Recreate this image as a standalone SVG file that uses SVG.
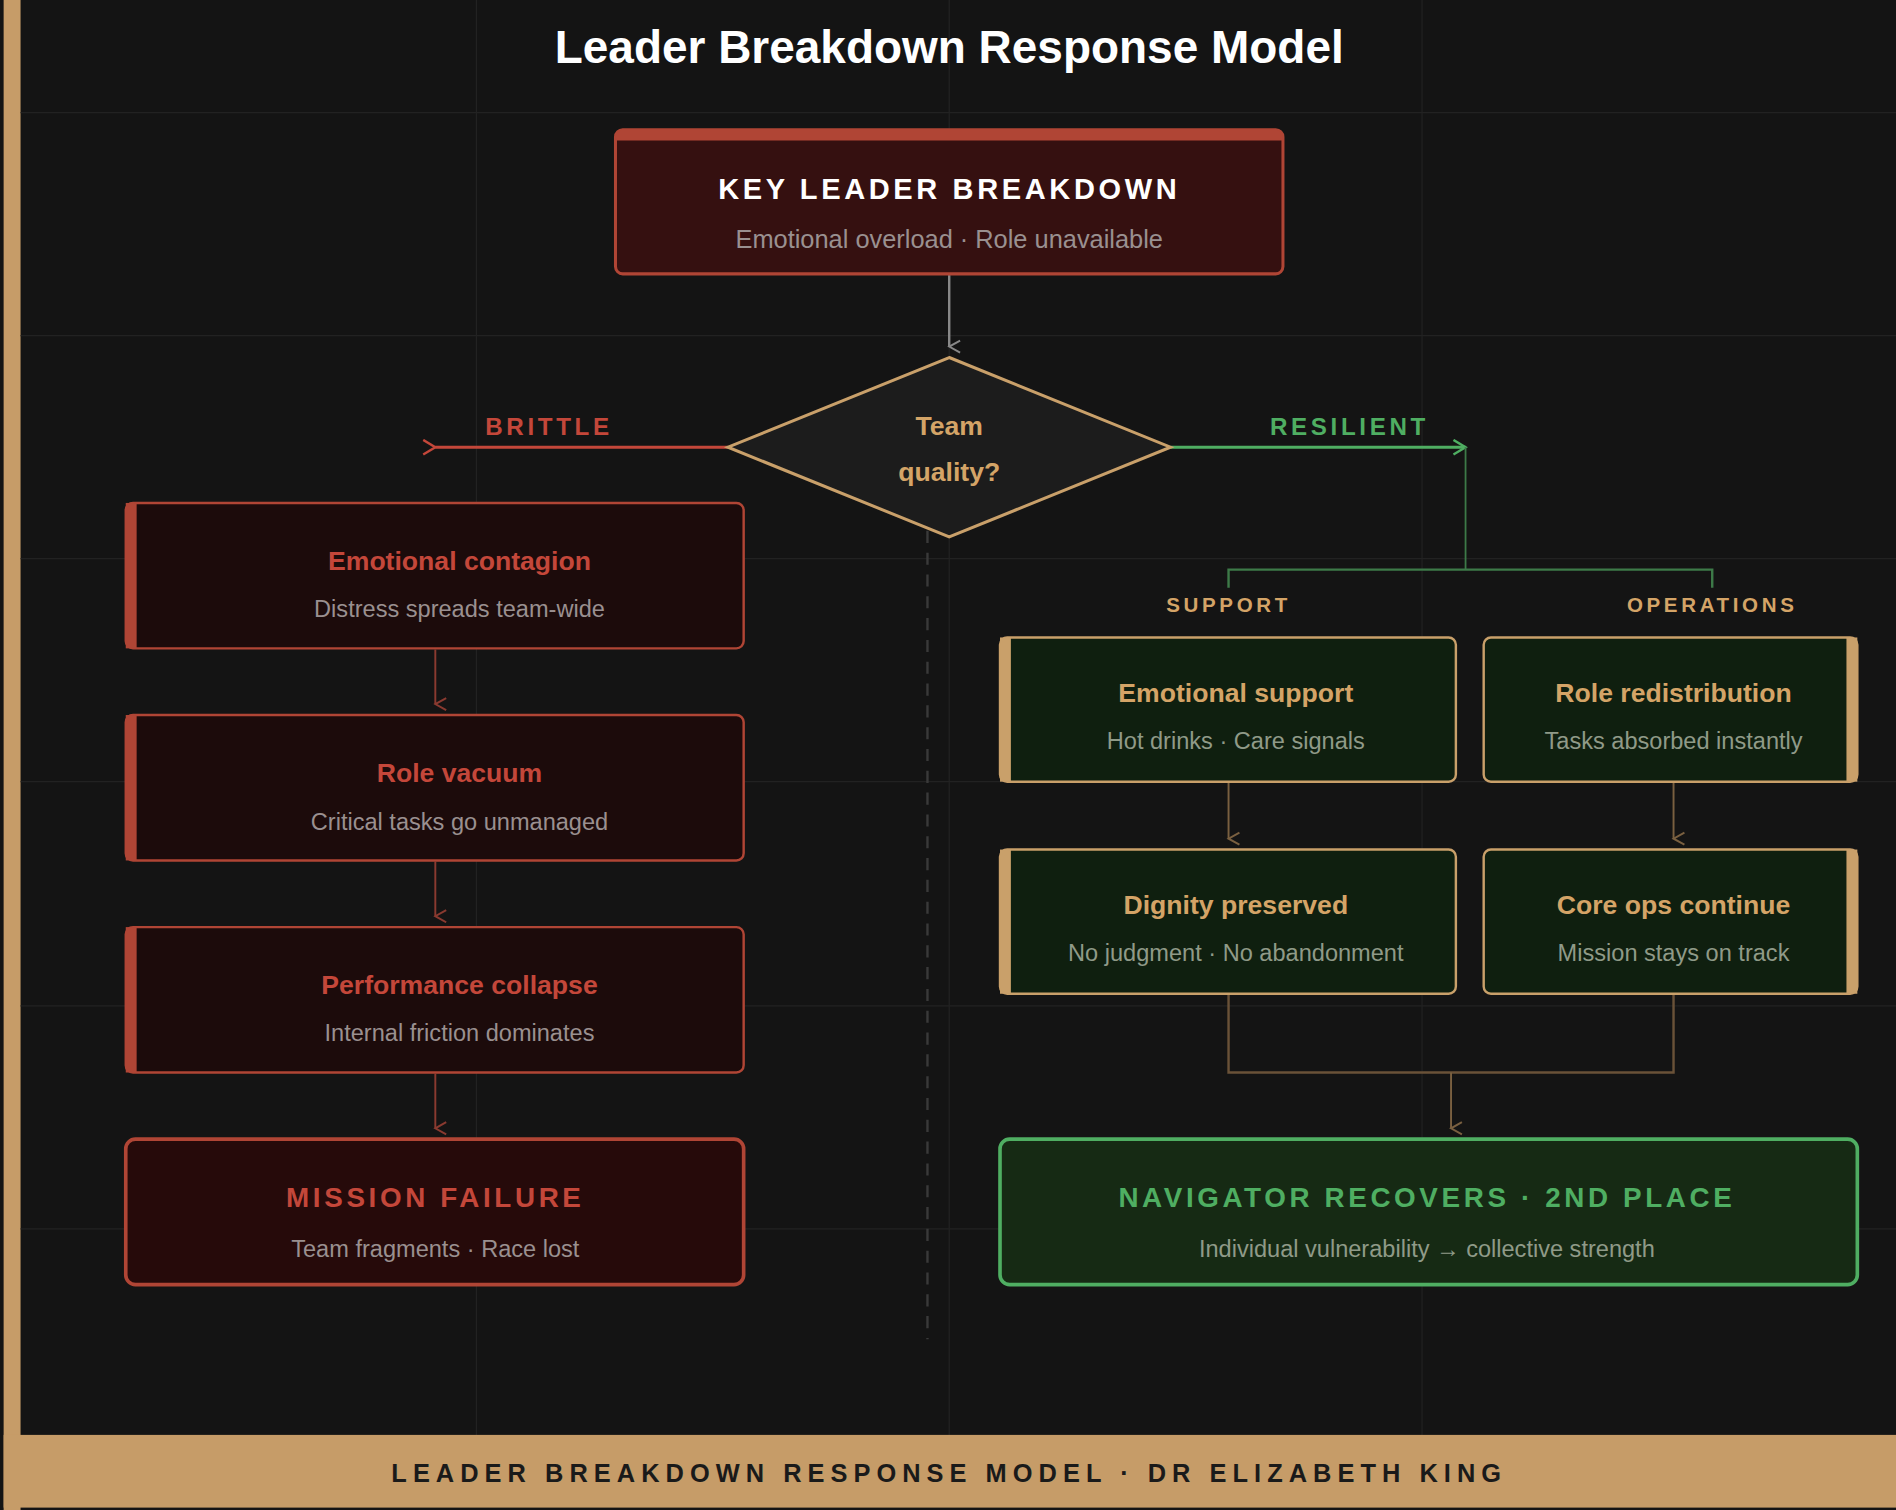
<svg xmlns="http://www.w3.org/2000/svg" width="1896" height="1510" viewBox="0 0 1896 1510">
<style>
text{font-family:"Liberation Sans",Arial,sans-serif;text-anchor:middle}
.t{font-weight:bold;font-size:22px}
.s{font-size:19.5px;fill:#9a9090}
.sg{font-size:19.5px;fill:#8f9a88}
.red{fill:#c4473a}.gold{fill:#d4a467}.green{fill:#4fae62}
.lb{fill:#1c0b0b;stroke:#b04535;stroke-width:2}
.rb{fill:#0f1f0f;stroke:#c9a06a;stroke-width:2}
.grid{stroke:#222;stroke-width:1}
</style>
<defs>
<marker id="ag" markerWidth="12" markerHeight="12" refX="6" refY="10" orient="auto" markerUnits="userSpaceOnUse"><path d="M1,1 L6,10 L11,1" fill="none" stroke="#888" stroke-width="1.6"/></marker>
<marker id="ar" markerWidth="12" markerHeight="12" refX="6" refY="10" orient="auto" markerUnits="userSpaceOnUse"><path d="M1,1 L6,10 L11,1" fill="none" stroke="#8a3a30" stroke-width="1.6"/></marker>
<marker id="ab" markerWidth="12" markerHeight="12" refX="6" refY="10" orient="auto" markerUnits="userSpaceOnUse"><path d="M1,1 L6,10 L11,1" fill="none" stroke="#7a6040" stroke-width="1.6"/></marker>
<marker id="arl" markerWidth="14" markerHeight="14" refX="2" refY="7" orient="auto" markerUnits="userSpaceOnUse"><path d="M12,1 L2,7 L12,13" fill="none" stroke="#c4473a" stroke-width="2"/></marker>
<marker id="agr" markerWidth="14" markerHeight="14" refX="12" refY="7" orient="auto" markerUnits="userSpaceOnUse"><path d="M2,1 L12,7 L2,13" fill="none" stroke="#4fae62" stroke-width="2"/></marker>
</defs>
<rect width="1896" height="1510" fill="#ffffff"/>
<g transform="scale(1.2092,1.2119)">
<rect x="0" y="0" width="1568" height="1246" fill="#141414"/>
<rect x="3" y="0" width="14" height="1246" fill="#c69c68"/>
<g class="grid">
<line x1="394" y1="0" x2="394" y2="1184"/><line x1="785" y1="0" x2="785" y2="1184"/><line x1="1176" y1="0" x2="1176" y2="1184"/>
<line x1="17" y1="93" x2="1568" y2="93"/><line x1="17" y1="277" x2="1568" y2="277"/><line x1="17" y1="461" x2="1568" y2="461"/><line x1="17" y1="645" x2="1568" y2="645"/><line x1="17" y1="830" x2="1568" y2="830"/><line x1="17" y1="1014" x2="1568" y2="1014"/>
</g>
<rect x="3" y="1184" width="1565" height="60" fill="#c69c68"/>
<text x="785" y="1223" style="font-weight:bold;font-size:21px;letter-spacing:5px;fill:#1a1a1a">LEADER BREAKDOWN RESPONSE MODEL · DR ELIZABETH KING</text>
<text x="785" y="52" style="font-weight:bold;font-size:38px;fill:#ffffff">Leader Breakdown Response Model</text>
<line x1="767" y1="420" x2="767" y2="1105" stroke="#3a3a3a" stroke-width="2" stroke-dasharray="10,8"/>

<g id="connectors" fill="none">
<line x1="785" y1="227" x2="785" y2="286" stroke="#888" stroke-width="2" marker-end="url(#ag)"/>
<line x1="602" y1="369" x2="360" y2="369" stroke="#c4473a" stroke-width="2.5" marker-end="url(#arl)"/>
<line x1="968" y1="369" x2="1212" y2="369" stroke="#4fae62" stroke-width="2.5" marker-end="url(#agr)"/>
<polyline points="1212,369 1212,470" stroke="#3d7a48" stroke-width="1.5"/>
<polyline points="1016,485 1016,470 1416,470 1416,485" stroke="#3d7a48" stroke-width="2"/>
<line x1="360" y1="536" x2="360" y2="581" stroke="#8a3a30" stroke-width="1.6" marker-end="url(#ar)"/>
<line x1="360" y1="711" x2="360" y2="756" stroke="#8a3a30" stroke-width="1.6" marker-end="url(#ar)"/>
<line x1="360" y1="886" x2="360" y2="931" stroke="#8a3a30" stroke-width="1.6" marker-end="url(#ar)"/>
<line x1="1016" y1="646" x2="1016" y2="692" stroke="#7a6040" stroke-width="1.6" marker-end="url(#ab)"/>
<line x1="1384" y1="646" x2="1384" y2="692" stroke="#7a6040" stroke-width="1.6" marker-end="url(#ab)"/>
<polyline points="1016,821 1016,885 1384,885 1384,821" stroke="#6a5238" stroke-width="2"/>
<line x1="1200" y1="885" x2="1200" y2="931" stroke="#7a6040" stroke-width="1.6" marker-end="url(#ab)"/>
</g>
<text x="454" y="359" style="font-weight:bold;font-size:20px;letter-spacing:3px" class="red">BRITTLE</text>
<text x="1116" y="359" style="font-weight:bold;font-size:20px;letter-spacing:3px" class="green">RESILIENT</text>
<text x="1016" y="505" style="font-weight:bold;font-size:17px;letter-spacing:3px" class="gold">SUPPORT</text>
<text x="1416" y="505" style="font-weight:bold;font-size:17px;letter-spacing:3px" class="gold">OPERATIONS</text>

<g id="key">
<rect x="509" y="107" width="552" height="119" rx="6" fill="#351010" stroke="#b04535" stroke-width="2.5"/>
<path d="M509,116 V113 a6,6 0 0 1 6,-6 H1055 a6,6 0 0 1 6,6 V116 Z" fill="#b04535"/>
<text x="785" y="164" style="font-weight:bold;font-size:24px;letter-spacing:3px;fill:#fff">KEY LEADER BREAKDOWN</text>
<text x="785" y="205" class="s" style="font-size:21px">Emotional overload · Role unavailable</text>
</g>
<g id="decision">
<polygon points="785,295 968,369 785,443 602,369" fill="#1c1c1c" stroke="#c9a06a" stroke-width="2.5"/>
<text x="785" y="359" class="t gold">Team</text>
<text x="785" y="397" class="t gold">quality?</text>
</g>
<g id="contagion"><rect x="104" y="415" width="511" height="120" rx="6" class="lb"/><rect x="104" y="415" width="9" height="120" fill="#b04535"/>
<text x="380" y="470" class="t red">Emotional contagion</text><text x="380" y="509" class="s">Distress spreads team-wide</text></g>
<g id="vacuum"><rect x="104" y="590" width="511" height="120" rx="6" class="lb"/><rect x="104" y="590" width="9" height="120" fill="#b04535"/>
<text x="380" y="645" class="t red">Role vacuum</text><text x="380" y="685" class="s">Critical tasks go unmanaged</text></g>
<g id="collapse"><rect x="104" y="765" width="511" height="120" rx="6" class="lb"/><rect x="104" y="765" width="9" height="120" fill="#b04535"/>
<text x="380" y="820" class="t red">Performance collapse</text><text x="380" y="859" class="s">Internal friction dominates</text></g>
<g id="failure"><rect x="104" y="940" width="511" height="120" rx="8" fill="#260a0a" stroke="#b04535" stroke-width="3"/>
<text x="360" y="996" class="red" style="font-weight:bold;font-size:23px;letter-spacing:3px">MISSION FAILURE</text><text x="360" y="1037" class="s">Team fragments · Race lost</text></g>

<g id="emotional"><rect x="827" y="526" width="377" height="119" rx="6" class="rb"/><rect x="827" y="526" width="9" height="119" fill="#c9a06a"/>
<text x="1022" y="579" class="t gold">Emotional support</text><text x="1022" y="618" class="sg">Hot drinks · Care signals</text></g>
<g id="role"><rect x="1227" y="526" width="309" height="119" rx="6" class="rb"/><rect x="1527" y="526" width="9" height="119" fill="#c9a06a"/>
<text x="1384" y="579" class="t gold">Role redistribution</text><text x="1384" y="618" class="sg">Tasks absorbed instantly</text></g>
<g id="dignity"><rect x="827" y="701" width="377" height="119" rx="6" class="rb"/><rect x="827" y="701" width="9" height="119" fill="#c9a06a"/>
<text x="1022" y="754" class="t gold">Dignity preserved</text><text x="1022" y="793" class="sg">No judgment · No abandonment</text></g>
<g id="coreops"><rect x="1227" y="701" width="309" height="119" rx="6" class="rb"/><rect x="1527" y="701" width="9" height="119" fill="#c9a06a"/>
<text x="1384" y="754" class="t gold">Core ops continue</text><text x="1384" y="793" class="sg">Mission stays on track</text></g>
<g id="navigator"><rect x="827" y="940" width="709" height="120" rx="8" fill="#162a14" stroke="#4fae62" stroke-width="3"/>
<text x="1180" y="996" class="green" style="font-weight:bold;font-size:23px;letter-spacing:3px">NAVIGATOR RECOVERS · 2ND PLACE</text><text x="1180" y="1037" class="sg">Individual vulnerability → collective strength</text></g>
</g>
</svg>
